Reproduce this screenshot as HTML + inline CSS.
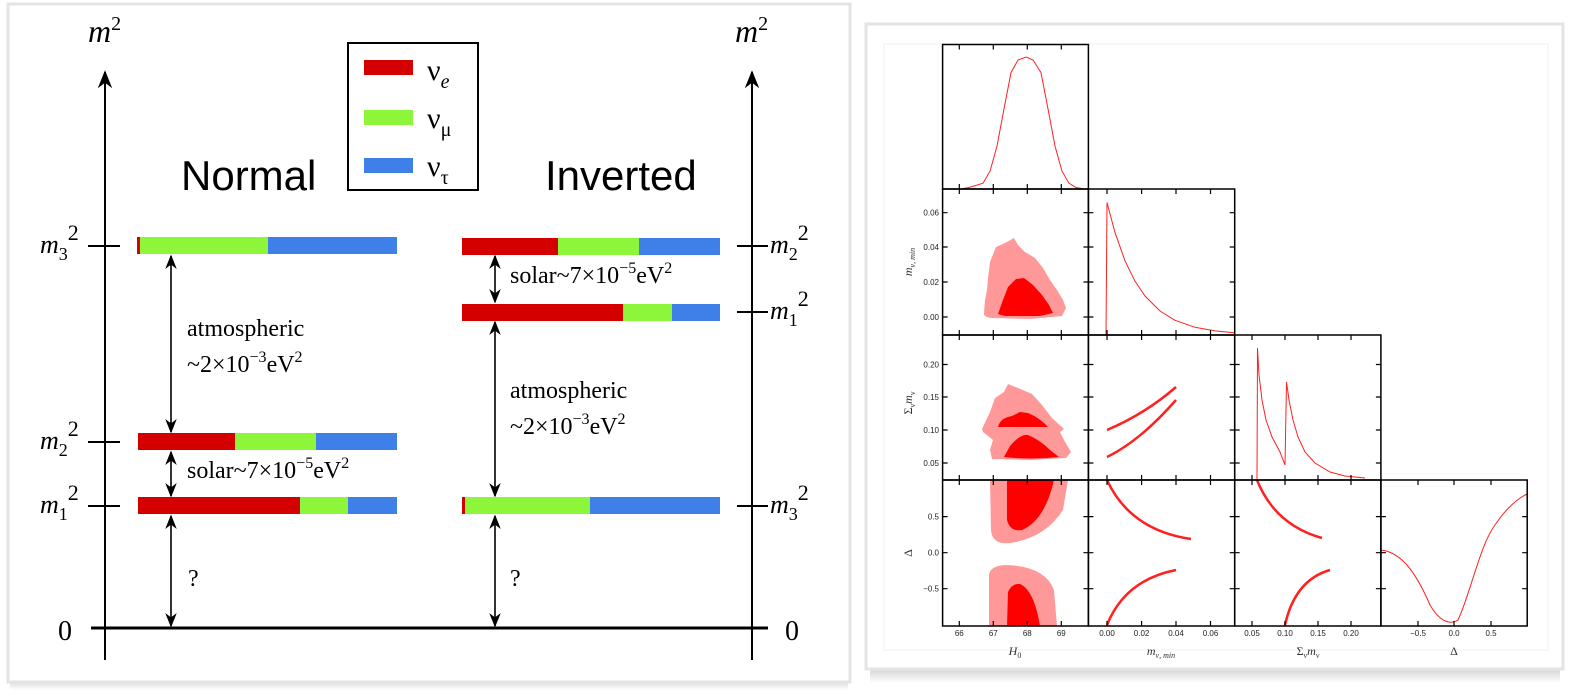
<!DOCTYPE html>
<html><head><meta charset="utf-8"><style>
html,body{margin:0;padding:0;background:#fff;width:1591px;height:698px;overflow:hidden}
svg{display:block}
.s{font-family:"Liberation Serif",serif}
.t{font-family:"Liberation Sans",sans-serif}
</style></head><body>
<svg width="1591" height="698" viewBox="0 0 1591 698" xmlns="http://www.w3.org/2000/svg">
<defs>
<linearGradient id="sh" x1="0" y1="0" x2="0" y2="1"><stop offset="0" stop-color="#888"/><stop offset="1" stop-color="#fff"/></linearGradient>
<marker id="ah" viewBox="0 0 10 10" refX="9" refY="5" markerWidth="9" markerHeight="9" orient="auto-start-reverse"><path d="M0,1 L10,5 L0,9 L3,5 Z" fill="#000"/></marker>
</defs>
<rect width="1591" height="698" fill="#fff"/>
<!-- card shadows -->
<rect x="10" y="670" width="838" height="20" fill="url(#sh)" opacity="0.7"/>
<rect x="870" y="655" width="690" height="28" fill="url(#sh)" opacity="0.7"/>
<rect x="8" y="4" width="842" height="678" fill="#fff" stroke="#e4e4e4" stroke-width="3"/>
<rect x="866" y="24" width="697" height="645" fill="#fff" stroke="#e4e4e4" stroke-width="3"/>
<rect x="884" y="44" width="664" height="606" fill="none" stroke="#f2f2f2" stroke-width="1"/>

<!-- LEFT DIAGRAM -->
<g stroke="#000" stroke-width="2" fill="none">
<line x1="105" y1="660" x2="105" y2="72" marker-end="url(#ah)"/>
<line x1="752" y1="660" x2="752" y2="72" marker-end="url(#ah)"/>
<line x1="91" y1="628" x2="768" y2="628" stroke-width="3"/>
<line x1="88" y1="246" x2="120" y2="246"/>
<line x1="88" y1="442" x2="120" y2="442"/>
<line x1="88" y1="506" x2="120" y2="506"/>
<line x1="737" y1="246" x2="768" y2="246"/>
<line x1="737" y1="312" x2="768" y2="312"/>
<line x1="737" y1="506" x2="768" y2="506"/>
<!-- arrows -->
<line x1="171" y1="256" x2="171" y2="432" marker-start="url(#ah)" marker-end="url(#ah)" stroke-width="1.6"/>
<line x1="171" y1="452" x2="171" y2="496" marker-start="url(#ah)" marker-end="url(#ah)" stroke-width="1.6"/>
<line x1="171" y1="516" x2="171" y2="626" marker-start="url(#ah)" marker-end="url(#ah)" stroke-width="1.6"/>
<line x1="495" y1="256" x2="495" y2="302" marker-start="url(#ah)" marker-end="url(#ah)" stroke-width="1.6"/>
<line x1="495" y1="322" x2="495" y2="496" marker-start="url(#ah)" marker-end="url(#ah)" stroke-width="1.6"/>
<line x1="495" y1="516" x2="495" y2="626" marker-start="url(#ah)" marker-end="url(#ah)" stroke-width="1.6"/>
</g>
<!-- bars -->
<g>
<rect x="137" y="237" width="3" height="17" fill="#d40000"/><rect x="140" y="237" width="128" height="17" fill="#8df53a"/><rect x="268" y="237" width="129" height="17" fill="#3f7fe8"/>
<rect x="138" y="433" width="97" height="17" fill="#d40000"/><rect x="235" y="433" width="81" height="17" fill="#8df53a"/><rect x="316" y="433" width="81" height="17" fill="#3f7fe8"/>
<rect x="138" y="497" width="162" height="17" fill="#d40000"/><rect x="300" y="497" width="48" height="17" fill="#8df53a"/><rect x="348" y="497" width="49" height="17" fill="#3f7fe8"/>
<rect x="462" y="238" width="96" height="17" fill="#d40000"/><rect x="558" y="238" width="81" height="17" fill="#8df53a"/><rect x="639" y="238" width="81" height="17" fill="#3f7fe8"/>
<rect x="462" y="304" width="161" height="17" fill="#d40000"/><rect x="623" y="304" width="49" height="17" fill="#8df53a"/><rect x="672" y="304" width="48" height="17" fill="#3f7fe8"/>
<rect x="462" y="497" width="3" height="17" fill="#d40000"/><rect x="465" y="497" width="125" height="17" fill="#8df53a"/><rect x="590" y="497" width="130" height="17" fill="#3f7fe8"/>
</g>
<!-- legend -->
<rect x="348" y="43" width="130" height="147" fill="#fff" stroke="#000" stroke-width="2"/>
<rect x="364" y="60" width="49" height="15" fill="#d40000"/>
<rect x="364" y="110" width="49" height="15" fill="#8df53a"/>
<rect x="364" y="158" width="49" height="15" fill="#3f7fe8"/>
<g class="s" font-size="30" fill="#000">
<text x="427" y="80">ν<tspan font-size="20" font-style="italic" dy="8">e</tspan></text>
<text x="427" y="128">ν<tspan font-size="20" dy="8">μ</tspan></text>
<text x="427" y="176">ν<tspan font-size="20" dy="8">τ</tspan></text>
</g>
<g class="t" font-size="42" fill="#000">
<text x="181" y="190">Normal</text>
<text x="545" y="190">Inverted</text>
</g>
<g class="s" fill="#000" font-size="24">
<text x="88" y="42" font-style="italic" font-size="32">m<tspan font-style="normal" font-size="20" dy="-12">2</tspan></text>
<text x="735" y="42" font-style="italic" font-size="32">m<tspan font-style="normal" font-size="20" dy="-12">2</tspan></text>
<text x="40" y="253" font-style="italic" font-size="26">m<tspan font-style="normal" font-size="18" dy="7">3</tspan><tspan font-style="normal" font-size="22" dy="-20">2</tspan></text>
<text x="40" y="449" font-style="italic" font-size="26">m<tspan font-style="normal" font-size="18" dy="7">2</tspan><tspan font-style="normal" font-size="22" dy="-20">2</tspan></text>
<text x="40" y="513" font-style="italic" font-size="26">m<tspan font-style="normal" font-size="18" dy="7">1</tspan><tspan font-style="normal" font-size="22" dy="-20">2</tspan></text>
<text x="770" y="253" font-style="italic" font-size="26">m<tspan font-style="normal" font-size="18" dy="7">2</tspan><tspan font-style="normal" font-size="22" dy="-20">2</tspan></text>
<text x="770" y="319" font-style="italic" font-size="26">m<tspan font-style="normal" font-size="18" dy="7">1</tspan><tspan font-style="normal" font-size="22" dy="-20">2</tspan></text>
<text x="770" y="513" font-style="italic" font-size="26">m<tspan font-style="normal" font-size="18" dy="7">3</tspan><tspan font-style="normal" font-size="22" dy="-20">2</tspan></text>
<text x="58" y="640" font-size="28">0</text>
<text x="785" y="640" font-size="28">0</text>
<text x="187" y="336">atmospheric</text>
<text x="187" y="372">~2×10<tspan font-size="16" dy="-10">−3</tspan><tspan dy="10">eV</tspan><tspan font-size="16" dy="-10">2</tspan></text>
<text x="187" y="478">solar~7×10<tspan font-size="16" dy="-10">−5</tspan><tspan dy="10">eV</tspan><tspan font-size="16" dy="-10">2</tspan></text>
<text x="510" y="283">solar~7×10<tspan font-size="16" dy="-10">−5</tspan><tspan dy="10">eV</tspan><tspan font-size="16" dy="-10">2</tspan></text>
<text x="510" y="398">atmospheric</text>
<text x="510" y="434">~2×10<tspan font-size="16" dy="-10">−3</tspan><tspan dy="10">eV</tspan><tspan font-size="16" dy="-10">2</tspan></text>
<text x="188" y="586">?</text>
<text x="510" y="586">?</text>
</g>

<!-- RIGHT TRIANGLE PLOT -->
<!-- contours -->
<g fill="#ff9999">
<path d="M984,313 L985,300 L987,290 L988,278 L990,262 L996,247 L1005,243 L1014,238 L1018,245 L1025,252 L1035,258 L1043,268 L1050,280 L1057,290 L1063,300 L1066,308 L1062,316 L1030,319 L992,318 Q983,317 984,313 Z"/>
<path d="M982,429 L990,412 L995,398 L1004,392 L1008,384 L1018,388 L1032,394 L1042,405 L1052,418 L1064,429 L1060,432 L1064,440 L1071,452 L1066,458 L1030,460 L992,459 L990,450 L993,440 L983,432 Z"/>
<path d="M990,480 L991,530 Q992,545 1010,543 Q1045,538 1063,510 L1068,480 Z"/>
<path d="M989,626 L989,575 Q990,566 1005,565 Q1045,566 1054,590 L1057,626 Z"/>
</g>
<g fill="#ff0000">
<path d="M998,314 L1003,300 L1008,287 L1016,279 L1024,278 L1033,285 L1042,295 L1049,305 L1053,313 L1040,316 L1005,316 Z"/>
<path d="M998,427 Q1000,418 1012,416 L1020,412 L1028,413 Q1040,418 1048,427 Z"/>
<path d="M1004,457 L1010,446 Q1020,434 1028,435 Q1040,440 1050,450 L1059,457 Q1030,460 1004,457 Z"/>
<path d="M1007,480 L1007,520 Q1010,532 1022,530 Q1045,520 1054,480 Z"/>
<path d="M1007,626 L1008,592 Q1012,583 1020,584 Q1034,590 1040,626 Z"/>
</g>
<g fill="none" stroke="#ff2020">
<polyline stroke-width="1" points="962,188.7 969,187.5 983,183.2 990,171.2 997,146.1 1004,108.9 1011,72.6 1018,60 1026,57 1033,60 1041,72.6 1048,108.9 1055,146.1 1062,171.2 1069,183.2 1076,187.5 1083,188.7"/>
<polyline stroke-width="1" points="1106,335 1107,202.5 1115,232.6 1125,260.8 1135,281.3 1145,296 1160,311 1175,320.3 1195,327.3 1215,330.9 1234,332.7"/>
<path stroke-width="1" d="M1257,480 L1257.5,348 L1259,375 L1262,400 L1266,420 L1272,437 L1280,452 L1285,465 L1286.5,382 L1289,400 L1293,420 L1298,437 L1305,452 L1315,463 L1330,472 L1345,476 L1365,478"/>
<path stroke-width="1" d="M1381,550 C1400,552 1415,570 1430,605 C1440,622 1450,625 1458,620 C1470,595 1480,545 1495,525 C1505,510 1515,500 1527,494"/>
<path stroke-width="2.5" d="M1107,430 Q1145,414 1176,387"/>
<path stroke-width="2.5" d="M1107,457 Q1140,441 1176,400"/>
<path stroke-width="2.5" d="M1107,480 Q1130,530 1191,539"/>
<path stroke-width="2.5" d="M1107,625 Q1125,580 1176,570"/>
<path stroke-width="2.5" d="M1257,480 Q1275,525 1322,538"/>
<path stroke-width="2.5" d="M1285,625 Q1295,580 1330,570"/>
</g>
<!-- frames -->
<g fill="none" stroke="#000" stroke-width="1.5">
<rect x="942.6" y="44.5" width="145.8" height="144.5"/>
<rect x="942.6" y="189" width="145.8" height="146"/>
<rect x="1088.4" y="189" width="146.3" height="146"/>
<rect x="942.6" y="335" width="145.8" height="145"/>
<rect x="1088.4" y="335" width="146.3" height="145"/>
<rect x="1234.7" y="335" width="146.2" height="145"/>
<rect x="942.6" y="480" width="145.8" height="146"/>
<rect x="1088.4" y="480" width="146.3" height="146"/>
<rect x="1234.7" y="480" width="146.2" height="146"/>
<rect x="1380.9" y="480" width="146.3" height="146"/>
</g>
<!-- ticks -->
<g stroke="#000" stroke-width="1.2">
<path d="M959.3,44.5v5M993.3,44.5v5M1027.3,44.5v5M1061.3,44.5v5 M959.3,189v-5M993.3,189v-5M1027.3,189v-5M1061.3,189v-5 M959.3,189v5M993.3,189v5M1027.3,189v5M1061.3,189v5 M959.3,335v-5M993.3,335v-5M1027.3,335v-5M1061.3,335v-5 M959.3,335v5M993.3,335v5M1027.3,335v5M1061.3,335v5 M959.3,480v-5M993.3,480v-5M1027.3,480v-5M1061.3,480v-5 M959.3,480v5M993.3,480v5M1027.3,480v5M1061.3,480v5 M959.3,626v-5M993.3,626v-5M1027.3,626v-5M1061.3,626v-5"/>
<path d="M1107,189v5M1141.6,189v5M1176,189v5M1210.5,189v5 M1107,335v-5M1141.6,335v-5M1176,335v-5M1210.5,335v-5 M1107,335v5M1141.6,335v5M1176,335v5M1210.5,335v5 M1107,480v-5M1141.6,480v-5M1176,480v-5M1210.5,480v-5 M1107,480v5M1141.6,480v5M1176,480v5M1210.5,480v5 M1107,626v-5M1141.6,626v-5M1176,626v-5M1210.5,626v-5"/>
<path d="M1252,335v5M1285,335v5M1318,335v5M1351,335v5 M1252,480v-5M1285,480v-5M1318,480v-5M1351,480v-5 M1252,480v5M1285,480v5M1318,480v5M1351,480v5 M1252,626v-5M1285,626v-5M1318,626v-5M1351,626v-5"/>
<path d="M1418,480v5M1454,480v5M1491,480v5 M1418,626v-5M1454,626v-5M1491,626v-5"/>
<path d="M942.6,212.7h5M942.6,247h5M942.6,282h5M942.6,317h5 M1088.4,212.7h-5M1088.4,247h-5M1088.4,282h-5M1088.4,317h-5 M1088.4,212.7h5M1088.4,247h5M1088.4,282h5M1088.4,317h5 M1234.7,212.7h-5M1234.7,247h-5M1234.7,282h-5M1234.7,317h-5"/>
<path d="M942.6,364.5h5M942.6,397h5M942.6,430h5M942.6,463h5 M1088.4,364.5h-5M1088.4,397h-5M1088.4,430h-5M1088.4,463h-5 M1088.4,364.5h5M1088.4,397h5M1088.4,430h5M1088.4,463h5 M1234.7,364.5h-5M1234.7,397h-5M1234.7,430h-5M1234.7,463h-5 M1234.7,364.5h5M1234.7,397h5M1234.7,430h5M1234.7,463h5 M1380.9,364.5h-5M1380.9,397h-5M1380.9,430h-5M1380.9,463h-5"/>
<path d="M942.6,516.6h5M942.6,552.7h5M942.6,588.7h5 M1088.4,516.6h-5M1088.4,552.7h-5M1088.4,588.7h-5 M1088.4,516.6h5M1088.4,552.7h5M1088.4,588.7h5 M1234.7,516.6h-5M1234.7,552.7h-5M1234.7,588.7h-5 M1234.7,516.6h5M1234.7,552.7h5M1234.7,588.7h5 M1380.9,516.6h-5M1380.9,552.7h-5M1380.9,588.7h-5 M1380.9,516.6h5M1380.9,552.7h5M1380.9,588.7h5 M1527.2,516.6h-5M1527.2,552.7h-5M1527.2,588.7h-5"/>
</g>
<g class="t" font-size="8" fill="#222" text-anchor="end">
<text x="939" y="215.5">0.06</text><text x="939" y="250">0.04</text><text x="939" y="285">0.02</text><text x="939" y="320">0.00</text>
<text x="939" y="367.5">0.20</text><text x="939" y="400">0.15</text><text x="939" y="433">0.10</text><text x="939" y="466">0.05</text>
<text x="939" y="519.5">0.5</text><text x="939" y="555.5">0.0</text><text x="939" y="591.5">−0.5</text>
</g>
<g class="t" font-size="8" fill="#222" text-anchor="middle">
<text x="959.3" y="636">66</text><text x="993.3" y="636">67</text><text x="1027.3" y="636">68</text><text x="1061.3" y="636">69</text>
<text x="1107" y="636">0.00</text><text x="1141.6" y="636">0.02</text><text x="1176" y="636">0.04</text><text x="1210.5" y="636">0.06</text>
<text x="1252" y="636">0.05</text><text x="1285" y="636">0.10</text><text x="1318" y="636">0.15</text><text x="1351" y="636">0.20</text>
<text x="1418" y="636">−0.5</text><text x="1454" y="636">0.0</text><text x="1491" y="636">0.5</text>
</g>
<g class="s" font-size="12" fill="#333" font-style="italic" text-anchor="middle">
<text x="1015" y="655">H<tspan font-size="8" font-style="normal" dy="3">0</tspan></text>
<text x="1161" y="655">m<tspan font-size="8" dy="3">ν, min</tspan></text>
<text x="1308" y="655" font-style="normal">Σ<tspan font-size="8" dy="3">ν</tspan><tspan font-style="italic" dy="-3">m</tspan><tspan font-size="8" dy="3">ν</tspan></text>
<text x="1454" y="655" font-style="normal">Δ</text>
<text transform="translate(912,262) rotate(-90)">m<tspan font-size="8" dy="3">ν, min</tspan></text>
<text transform="translate(912,403) rotate(-90)" font-style="normal">Σ<tspan font-size="8" dy="3">ν</tspan><tspan font-style="italic" dy="-3">m</tspan><tspan font-size="8" dy="3">ν</tspan></text>
<text transform="translate(912,553) rotate(-90)" font-style="normal">Δ</text>
</g>
</svg>
</body></html>
